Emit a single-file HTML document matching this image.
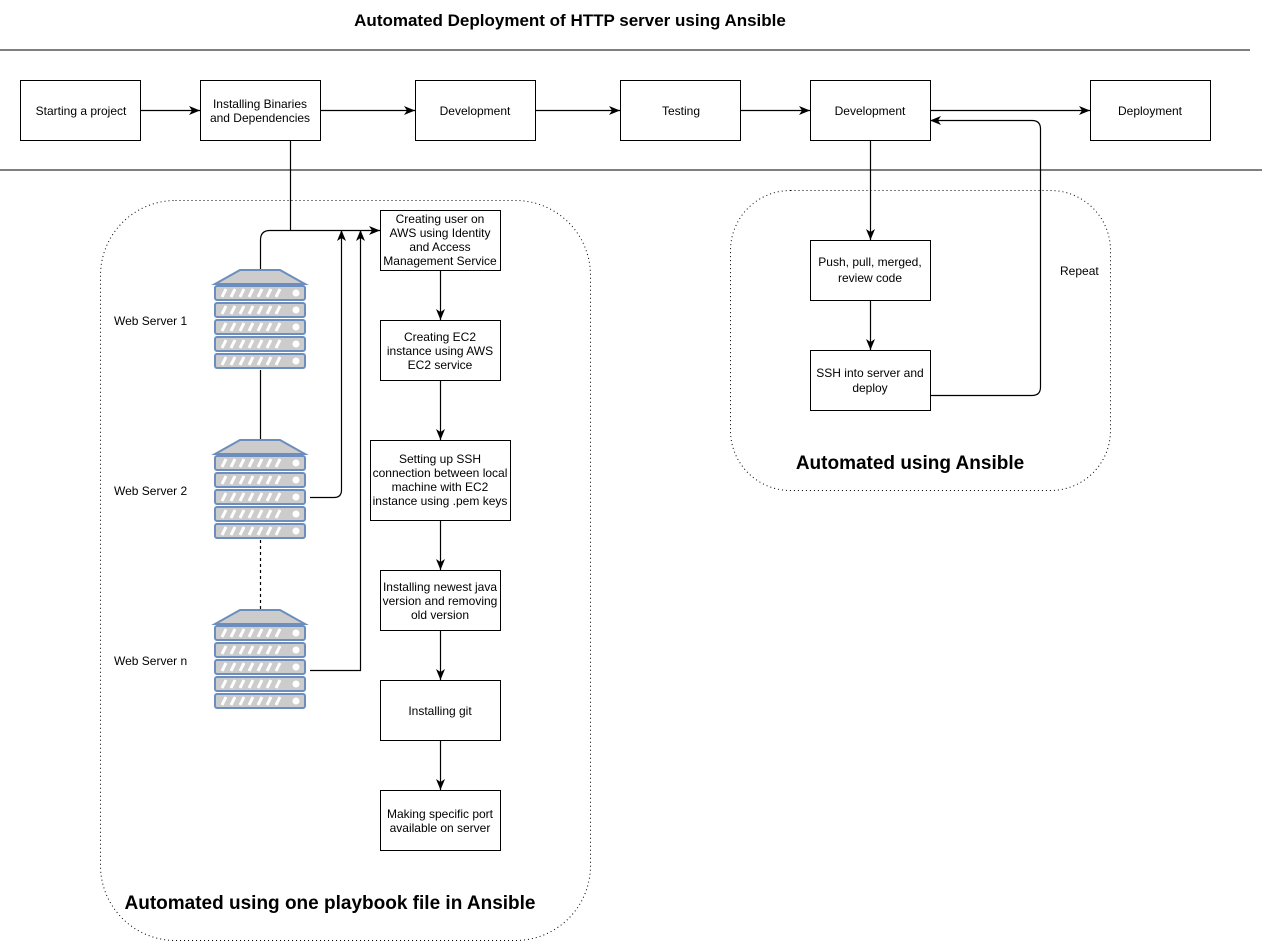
<!DOCTYPE html>
<html><head><meta charset="utf-8"><style>
body{margin:0;background:#fff}
svg text{font-family:"Liberation Sans",Arial,sans-serif;fill:#000}
</style></head><body>
<svg width="1262" height="941" viewBox="0 0 1262 941" xmlns="http://www.w3.org/2000/svg">
<defs>
<marker id="a" markerWidth="12" markerHeight="12" refX="11" refY="6" orient="auto" markerUnits="userSpaceOnUse"><path d="M0,1.5 L11,6 L0,10.5 L3,6 Z" fill="#000"/></marker>
<g id="srv">
<path d="M25,0 L65,0 L90,14 L0,14 Z" fill="#ccc" stroke="#6c8ebf" stroke-width="2"/>
<g id="u"><rect x="0" y="16" width="90" height="14" rx="2" fill="#ccc" stroke="#6c8ebf" stroke-width="2"/>
<g stroke="#fff" stroke-width="3"><line x1="7" y1="27" x2="11" y2="19"/><line x1="16" y1="27" x2="20" y2="19"/><line x1="25" y1="27" x2="29" y2="19"/><line x1="34" y1="27" x2="38" y2="19"/><line x1="43" y1="27" x2="47" y2="19"/><line x1="52" y1="27" x2="56" y2="19"/><line x1="61" y1="27" x2="65" y2="19"/></g>
<circle cx="81" cy="23" r="3.5" fill="#fff"/></g>
<use href="#u" y="17"/><use href="#u" y="34"/><use href="#u" y="51"/><use href="#u" y="68"/>
</g>
</defs>
<text x="570" y="26" font-size="17" font-weight="bold" text-anchor="middle">Automated Deployment of HTTP server using Ansible</text>
<line x1="0" y1="50" x2="1250" y2="50" stroke="#000"/>
<line x1="0" y1="170" x2="1262" y2="170" stroke="#000"/>
<rect x="100.5" y="200.5" width="490" height="740" rx="75" fill="none" stroke="#000" stroke-dasharray="1,3"/>
<rect x="730.5" y="190.5" width="380" height="300" rx="60" fill="none" stroke="#000" stroke-dasharray="1,3"/>
<g fill="#fff" stroke="#000">
<rect x="20.5" y="80.5" width="120" height="60"/><rect x="200.5" y="80.5" width="120" height="60"/>
<rect x="415.5" y="80.5" width="120" height="60"/><rect x="620.5" y="80.5" width="120" height="60"/>
<rect x="810.5" y="80.5" width="120" height="60"/><rect x="1090.5" y="80.5" width="120" height="60"/>
<rect x="380.5" y="210.5" width="120" height="60"/><rect x="380.5" y="320.5" width="120" height="60"/>
<rect x="370.5" y="440.5" width="140" height="80"/><rect x="380.5" y="570.5" width="120" height="60"/>
<rect x="380.5" y="680.5" width="120" height="60"/><rect x="380.5" y="790.5" width="120" height="60"/>
<rect x="810.5" y="240.5" width="120" height="60"/><rect x="810.5" y="350.5" width="120" height="60"/>
</g>
<g stroke="#000" fill="none" stroke-width="1.2">
<line x1="140" y1="110.5" x2="200" y2="110.5" marker-end="url(#a)"/>
<line x1="320" y1="110.5" x2="415" y2="110.5" marker-end="url(#a)"/>
<line x1="535" y1="110.5" x2="620" y2="110.5" marker-end="url(#a)"/>
<line x1="740" y1="110.5" x2="810" y2="110.5" marker-end="url(#a)"/>
<line x1="930" y1="110.5" x2="1090" y2="110.5" marker-end="url(#a)"/>
<path d="M290.5,140 V230.5 H380" marker-end="url(#a)"/>
<path d="M260.5,270 V240 Q260.5,230.5 270,230.5 H290"/>
<path d="M310,497.5 H334 Q341.5,497.5 341.5,490 V230" marker-end="url(#a)"/>
<path d="M310,670.5 H360.5 V230" marker-end="url(#a)"/>
<line x1="260.5" y1="370" x2="260.5" y2="440"/>
<line x1="260.5" y1="540" x2="260.5" y2="610" stroke-dasharray="3,3"/>
<line x1="440.5" y1="270" x2="440.5" y2="320" marker-end="url(#a)"/>
<line x1="440.5" y1="380" x2="440.5" y2="440" marker-end="url(#a)"/>
<line x1="440.5" y1="520" x2="440.5" y2="570" marker-end="url(#a)"/>
<line x1="440.5" y1="630" x2="440.5" y2="680" marker-end="url(#a)"/>
<line x1="440.5" y1="740" x2="440.5" y2="790" marker-end="url(#a)"/>
<line x1="870.5" y1="140" x2="870.5" y2="240" marker-end="url(#a)"/>
<line x1="870.5" y1="300" x2="870.5" y2="350" marker-end="url(#a)"/>
<path d="M930,395.5 H1032 Q1040.5,395.5 1040.5,387 V129 Q1040.5,120.5 1032,120.5 H930" marker-end="url(#a)"/>
</g>
<use href="#srv" x="215" y="270"/><use href="#srv" x="215" y="440"/><use href="#srv" x="215" y="610"/>
<g font-size="12" text-anchor="middle">
<text x="81" y="115">Starting a project</text>
<text x="260" y="108">Installing Binaries</text><text x="260" y="122">and Dependencies</text>
<text x="475" y="115">Development</text><text x="681" y="115">Testing</text>
<text x="870" y="115">Development</text><text x="1150" y="115">Deployment</text>
<text x="440" y="223">Creating user on</text><text x="440" y="237">AWS using Identity</text><text x="440" y="251">and Access</text><text x="440" y="265">Management Service</text>
<text x="440" y="341">Creating EC2</text><text x="440" y="355">instance using AWS</text><text x="440" y="369">EC2 service</text>
<text x="440" y="463">Setting up SSH</text><text x="440" y="477">connection between local</text><text x="440" y="491">machine with EC2</text><text x="440" y="505">instance using .pem keys</text>
<text x="440" y="591">Installing newest java</text><text x="440" y="605">version and removing</text><text x="440" y="619">old version</text>
<text x="440" y="715">Installing git</text>
<text x="440" y="818">Making specific port</text><text x="440" y="832">available on server</text>
<text x="870" y="266">Push, pull, merged,</text><text x="870" y="282">review code</text>
<text x="870" y="377">SSH into server and</text><text x="870" y="392">deploy</text>
</g>
<g font-size="12">
<text x="114" y="325">Web Server 1</text><text x="114" y="495">Web Server 2</text><text x="114" y="665">Web Server n</text>
<text x="1060" y="275">Repeat</text>
</g>
<text x="330" y="909" font-size="19" font-weight="bold" text-anchor="middle">Automated using one playbook file in Ansible</text>
<text x="910" y="469" font-size="19" font-weight="bold" text-anchor="middle">Automated using Ansible</text>
</svg>
</body></html>
